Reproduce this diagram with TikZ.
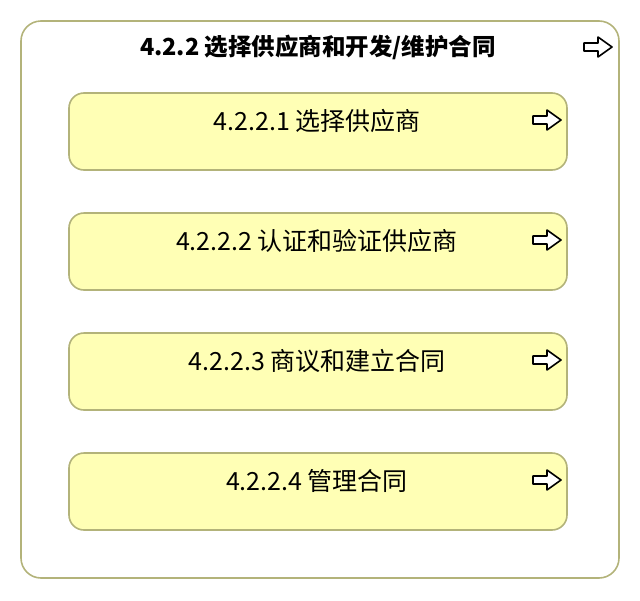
\documentclass[tikz,border=0pt]{standalone}
\usepackage{fontspec}
\newfontfamily\cjk{Noto Sans CJK SC}
\usetikzlibrary{positioning}
\definecolor{boxline}{HTML}{B3B37A}
\definecolor{boxfill}{HTML}{FFFFB5}
\tikzset{
  outerbox/.style={draw=boxline, line width=1.6pt, rounded corners=20pt,
    minimum width=598pt, minimum height=557pt, inner sep=0pt},
  taskbox/.style={draw=boxline, fill=boxfill, line width=1.6pt, rounded corners=15pt,
    minimum width=498pt, minimum height=77pt, inner sep=0pt},
  tasktext/.style={font=\cjk\fontsize{25}{28}\selectfont, inner sep=0pt},
  titletext/.style={font=\cjk\bfseries\fontsize{23.5}{28}\selectfont, inner sep=0pt},
  goarrow/.pic={\draw[line width=1.6pt, fill=white] (-14,-4)--(0,-4)--(0,-10)--(14,0)--(0,10)--(0,4)--(-14,4)--cycle;}
}
\begin{document}
\begin{tikzpicture}[x=1pt, y=-1pt, line join=round]
	\useasboundingbox (0,0) rectangle (640,600);
	\node[outerbox] (P) at (320,299.5) {};
	\node[titletext] (T) at (318,47) {4.2.2 选择供应商和开发/维护合同};
	\pic at (598,47) {goarrow};
	\foreach \i/\t in {1/4.2.2.1 选择供应商, 2/4.2.2.2 认证和验证供应商, 3/4.2.2.3 商议和建立合同, 4/4.2.2.4 管理合同}{
		\node[taskbox] (B\i) at (318,{131.5+120*(\i-1)}) {};
		\node[tasktext] (L\i) at (317,{121+120*(\i-1)}) {\t};
		\pic at (547,{120+120*(\i-1)}) {goarrow};
	}
\end{tikzpicture}
\end{document}
